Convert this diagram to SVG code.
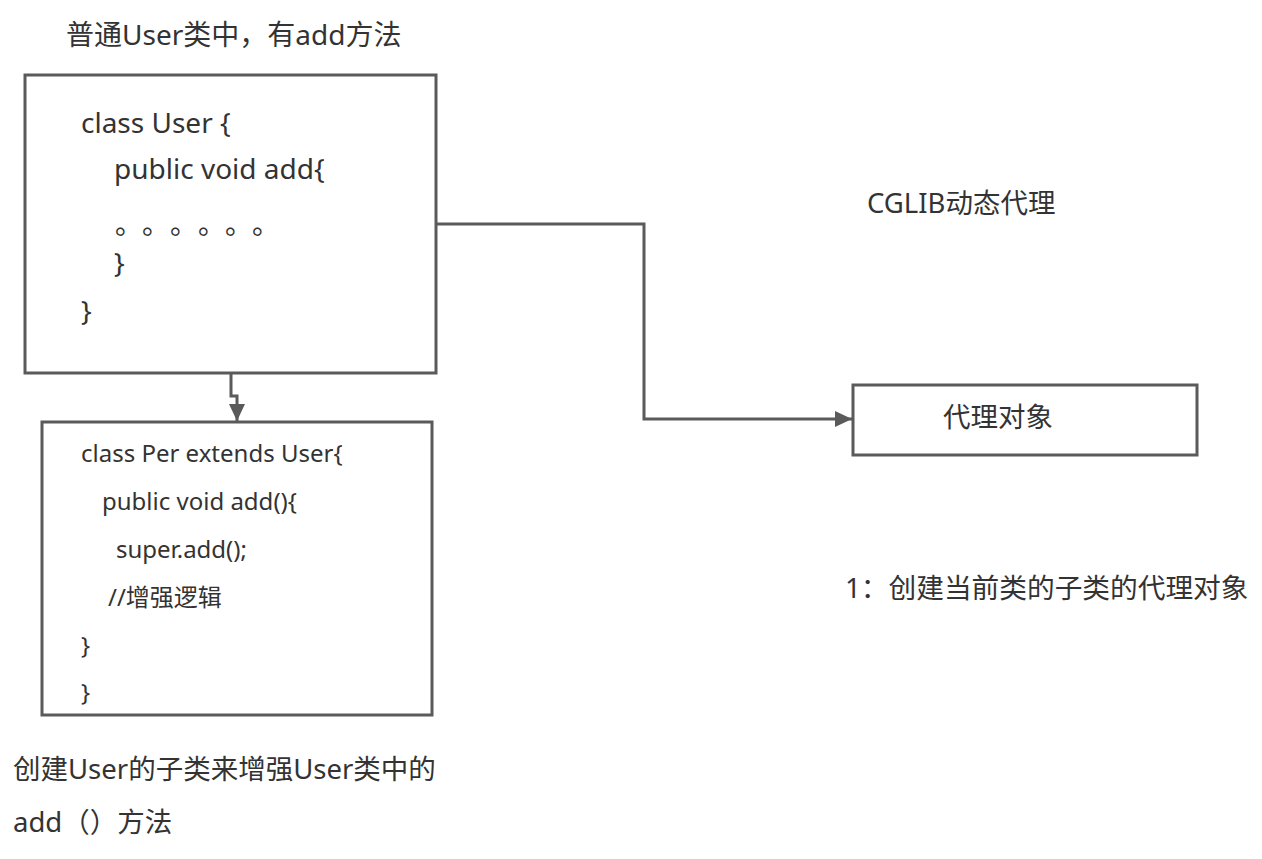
<svg xmlns="http://www.w3.org/2000/svg" width="1262" height="859" viewBox="0 0 1262 859">
<style>
.t{font-family:"Noto Sans","Noto Sans CJK SC",sans-serif;fill:#333333}
.cjk{font-family:"Noto Sans CJK SC",sans-serif}
.b{fill:#ffffff;stroke:#5a5a5a;stroke-width:3}
.c{fill:none;stroke:#5a5a5a;stroke-width:3}
</style>
<defs>
<marker id="arr" markerUnits="userSpaceOnUse" markerWidth="18" markerHeight="16" refX="17" refY="8" orient="auto">
<path d="M0,0 L17,8 L0,16 z" fill="#5a5a5a"/>
</marker>
</defs>
<rect width="1262" height="859" fill="#ffffff"/>
<g id="title"><text class="t" x="66" y="45" font-size="28">普通User类中，有add方法</text></g>
<g id="user">
<rect class="b" x="25" y="75" width="411" height="298"/>
<text class="t" font-size="28"><tspan x="81" y="133">class User {</tspan><tspan x="114" y="179">public void add{</tspan><tspan x="114" y="273">}</tspan><tspan x="81" y="321">}</tspan></text>
<text class="t cjk" x="115 142 170 198 225 252" y="234" font-size="27.5">。。。。。。</text>
</g>
<g id="per">
<rect class="b" x="42" y="422" width="390" height="293"/>
<text class="t" font-size="24"><tspan x="81" y="462">class Per extends User{</tspan><tspan x="102" y="510">public void add(){</tspan><tspan x="116" y="558">super.add();</tspan><tspan x="108" y="606">//增强逻辑</tspan><tspan x="81" y="654">}</tspan><tspan x="81" y="701">}</tspan></text>
</g>
<g id="proxy">
<rect class="b" x="853" y="385" width="344" height="70"/>
<text class="t" x="943" y="427" font-size="27.5">代理对象</text>
</g>
<g id="labels">
<text class="t" x="867" y="213" font-size="27.5">CGLIB动态代理</text>
<text class="t" x="845" y="598" font-size="27.7">1：创建当前类的子类的代理对象</text>
<text class="t" font-size="27.5"><tspan x="13" y="779">创建User的子类来增强User类中的</tspan><tspan x="13" y="832">add（）方法</tspan></text>
</g>
<g id="connectors">
<path class="c" d="M231,373 L231,396 L237,396 L237,421" marker-end="url(#arr)"/>
<path class="c" d="M436,224 L644,224 L644,419 L852,419" marker-end="url(#arr)"/>
</g>
</svg>
